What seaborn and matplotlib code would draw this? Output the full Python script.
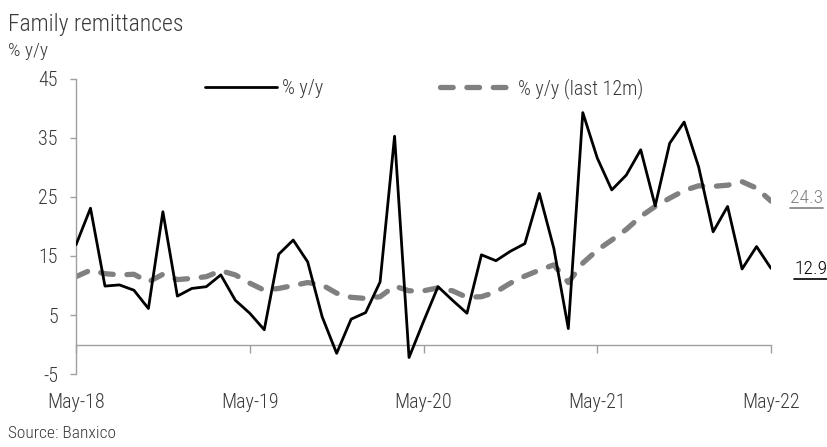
import numpy as np
import pandas as pd
import matplotlib
matplotlib.use("Agg")
import matplotlib.pyplot as plt
from matplotlib import font_manager
from matplotlib.lines import Line2D
import seaborn as sns

# Monthly remittance growth, May-2018 .. May-2022
months = pd.date_range("2018-05-01", "2022-05-01", freq="MS")
yoy = [16.9, 23.1, 9.9, 10.1, 9.2, 6.1, 22.5, 8.2, 9.5, 9.8, 11.8, 7.5,
       5.3, 2.5, 15.3, 17.7, 14.0, 4.7, -1.5, 4.3, 5.4, 10.6, 35.3, -2.2,
       3.9, 9.8, 7.5, 5.3, 15.2, 14.2, 15.8, 17.1, 25.6, 16.3, 2.7, 39.3,
       31.6, 26.2, 28.7, 33.0, 23.5, 34.1, 37.7, 30.1, 19.1, 23.4, 12.8, 16.6,
       12.9]
yoy_12m = [11.5, 12.6, 12.0, 11.8, 11.9, 10.6, 11.9, 11.0, 11.2, 11.5, 12.5, 11.8,
           10.4, 9.2, 9.5, 10.0, 10.5, 10.1, 8.7, 8.0, 7.8, 8.1, 9.9, 9.1,
           9.1, 9.6, 9.1, 8.0, 8.1, 8.9, 10.4, 11.6, 12.6, 13.5, 10.5, 13.8,
           16.0, 17.7, 19.5, 21.7, 23.4, 24.8, 26.1, 26.9, 26.8, 27.0, 27.6, 26.5,
           24.3]
tick_labels = ["May-18", "May-19", "May-20", "May-21", "May-22"]
y_ticks = [-5, 5, 15, 25, 35, 45]

df = pd.DataFrame({"t": np.arange(len(months)), "yoy": yoy, "yoy_12m": yoy_12m})

sns.set_theme(style="white")
installed = {f.name for f in font_manager.fontManager.ttflist}
family = [f for f in ["Roboto Condensed", "Liberation Sans Narrow", "Liberation Sans"] if f in installed]
plt.rcParams["font.family"] = family + ["DejaVu Sans"]
plt.rcParams["font.weight"] = "light"
plt.rcParams["axes.unicode_minus"] = False

TXT = "#3a3a3a"
GREY = "#808080"
AX = "#a0a0a0"

fig = plt.figure(figsize=(8.28, 4.47), dpi=100)
ax = fig.add_axes([0.0918, 0.1633, 0.9312 - 0.0918, 0.8233 - 0.1633])

sns.lineplot(data=df, x="t", y="yoy_12m", ax=ax, color=GREY, lw=3.8,
             label="% y/y (last 12m)")
sns.lineplot(data=df, x="t", y="yoy", ax=ax, color="black", lw=2.0, label="% y/y")
dash_line, solid_line = ax.get_lines()[0], ax.get_lines()[1]
dash_line.set_dashes((2.4, 2.6))
dash_line.set_dash_capstyle("round")
dash_line.set_zorder(2)
solid_line.set_zorder(3)

ax.set_xlim(0, len(months) - 1)
ax.set_ylim(-5, 45)
ax.set_yticks(y_ticks)
ax.set_xlabel("")
ax.set_ylabel("")

# zero line carries the year ticks; labels sit beneath the plot
year_pos = df["t"][months.month == 5].to_numpy()
ax.spines["bottom"].set_position(("data", 0))
for s in ["top", "right"]:
    ax.spines[s].set_visible(False)
for s in ["bottom", "left"]:
    ax.spines[s].set_color(AX)
    ax.spines[s].set_linewidth(1.0)
ax.set_xticks(year_pos)
ax.tick_params(axis="x", which="both", bottom=True, length=6, width=1.0,
               color=AX, labelbottom=False, direction="out")
ax.tick_params(axis="y", left=True, length=4, width=1.0, color=AX,
               labelsize=14.5, labelcolor=TXT, pad=9)

sec = ax.secondary_xaxis("bottom")
sec.set_xticks(year_pos, tick_labels)
sec.tick_params(length=0, labelsize=14.5, labelcolor=TXT, pad=14)
sec.spines["bottom"].set_visible(False)

leg = ax.legend(handles=[solid_line, dash_line], labels=["% y/y", "% y/y (last 12m)"],
                ncol=2, loc="upper left", bbox_to_anchor=(0.159, 1.065), frameon=False,
                fontsize=14.5, handlelength=3.6, handletextpad=0.25, columnspacing=5.8,
                labelcolor=TXT)

fig.text(0.010, 0.972, "Family remittances", fontsize=17, color=TXT, va="top")
fig.text(0.010, 0.906, "% y/y", fontsize=14, color=TXT, va="top")
fig.text(0.010, 0.030, "Source: Banxico", fontsize=12.5, color=TXT, va="center")

# end-of-series value labels, underlined
labels = []
for val, col, dx, dy in [(yoy_12m[-1], GREY, 13.5, 2.5), (yoy[-1], "black", 16.5, -0.5)]:
    t = ax.annotate(f"{val:.1f}", xy=(len(months) - 1, val), xytext=(dx, dy),
                    textcoords="offset points", color=col, fontsize=14,
                    va="center", ha="left", annotation_clip=False)
    labels.append((t, col))
fig.canvas.draw()
for t, col in labels:
    bb = t.get_window_extent()
    fig.add_artist(Line2D([bb.x0, bb.x1], [bb.y0 - 1, bb.y0 - 1], color=col,
                          lw=1.2, transform=None))

fig.savefig("out.png", dpi=100)
